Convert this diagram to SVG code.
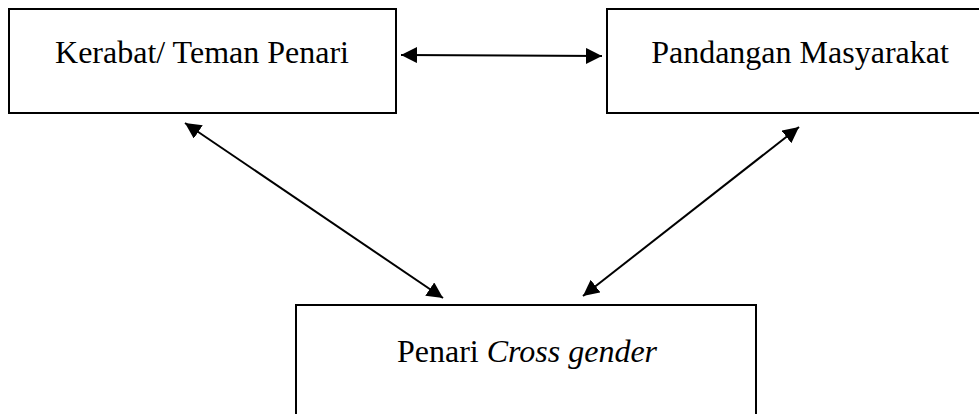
<svg xmlns="http://www.w3.org/2000/svg" width="979" height="414" viewBox="0 0 979 414">
<style>
.box{fill:#fff;stroke:#000;stroke-width:2}
.lbl{font-family:"Liberation Serif","Times New Roman",serif;font-size:32px;fill:#000;text-anchor:middle}
.conn{stroke:#000;stroke-width:2;fill:none}
</style>
<defs>
<marker id="ah" markerUnits="userSpaceOnUse" markerWidth="18" markerHeight="18" refX="16" refY="8" orient="auto-start-reverse">
<path d="M0,0 L16,8 L0,16 Z" fill="#000"/>
</marker>
</defs>
<rect width="979" height="414" fill="#fff"/>
<g id="kerabat">
<rect class="box" x="9" y="9" width="387" height="104"/>
<text class="lbl" x="202" y="63">Kerabat/ Teman Penari</text>
</g>
<g id="pandangan">
<rect class="box" x="607" y="9" width="386" height="104"/>
<text class="lbl" x="800" y="63">Pandangan Masyarakat</text>
</g>
<g id="penari">
<rect class="box" x="296" y="305" width="460" height="130"/>
<text class="lbl" x="527" y="362">Penari <tspan font-style="italic">Cross gender</tspan></text>
</g>
<g id="connectors">
<line class="conn" x1="401" y1="55" x2="602" y2="56" marker-start="url(#ah)" marker-end="url(#ah)"/>
<line class="conn" x1="185" y1="123" x2="443" y2="298" marker-start="url(#ah)" marker-end="url(#ah)"/>
<line class="conn" x1="799" y1="127" x2="583" y2="296" marker-start="url(#ah)" marker-end="url(#ah)"/>
</g>
</svg>
